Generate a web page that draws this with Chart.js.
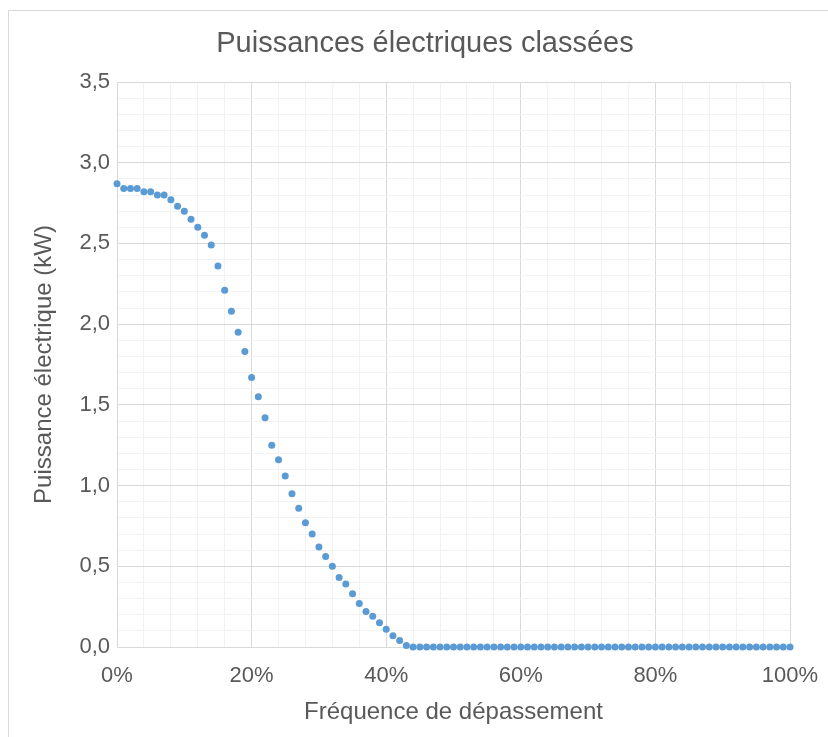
<!DOCTYPE html>
<html>
<head>
<meta charset="utf-8">
<script src="https://cdn.jsdelivr.net/npm/chart.js@4/dist/chart.umd.min.js"></script>
<style>
    body { margin: 0; background: #fff; overflow: hidden; }
    #box { position: absolute; left: 8px; top: 10px; width: 832px; height: 740px; border: 1px solid #d9d9d9; }
</style>
</head>
<body>
<div id="box"><canvas id="powerChart" width="832" height="740"></canvas></div>
<script>
// Fréquence de dépassement (%)
var frequencies = [
    0, 1, 2, 3, 4, 5, 6, 7, 8, 9, 10, 11, 12, 13, 14, 15, 16, 17, 18, 19,
    20, 21, 22, 23, 24, 25, 26, 27, 28, 29, 30, 31, 32, 33, 34, 35, 36, 37, 38, 39,
    40, 41, 42, 43, 44, 45, 46, 47, 48, 49, 50, 51, 52, 53, 54, 55, 56, 57, 58, 59,
    60, 61, 62, 63, 64, 65, 66, 67, 68, 69, 70, 71, 72, 73, 74, 75, 76, 77, 78, 79,
    80, 81, 82, 83, 84, 85, 86, 87, 88, 89, 90, 91, 92, 93, 94, 95, 96, 97, 98, 99,
    100
];

// Puissance électrique (kW)
var powers = [
    2.87, 2.84, 2.84, 2.84, 2.82, 2.82, 2.80, 2.80, 2.77, 2.73,
    2.70, 2.65, 2.60, 2.55, 2.49, 2.36, 2.21, 2.08, 1.95, 1.83,
    1.67, 1.55, 1.42, 1.25, 1.16, 1.06, 0.95, 0.86, 0.77, 0.70,
    0.62, 0.56, 0.50, 0.43, 0.39, 0.33, 0.27, 0.22, 0.19, 0.15,
    0.11, 0.07, 0.04, 0.01, 0, 0, 0, 0, 0, 0,
    0, 0, 0, 0, 0, 0, 0, 0, 0, 0,
    0, 0, 0, 0, 0, 0, 0, 0, 0, 0,
    0, 0, 0, 0, 0, 0, 0, 0, 0, 0,
    0, 0, 0, 0, 0, 0, 0, 0, 0, 0,
    0, 0, 0, 0, 0, 0, 0, 0, 0, 0,
    0
];

var xMajorTicks = [0, 20, 40, 60, 80, 100];
var yMajorTicks = [0, 0.5, 1, 1.5, 2, 2.5, 3, 3.5];

var textColor = '#595959';
var fontFamily = "'Liberation Sans', Arial, sans-serif";

function isMajorX(v) {
    return xMajorTicks.indexOf(Math.round(v)) !== -1;
}

function isMajorY(v) {
    return yMajorTicks.indexOf(Math.round(v * 10) / 10) !== -1;
}

var points = frequencies.map(function (f, i) {
    return { x: f, y: powers[i] };
});

new Chart(document.getElementById('powerChart'), {
    type: 'scatter',
    data: {
        datasets: [{
            data: points,
            backgroundColor: '#5b9bd5',
            borderColor: '#5b9bd5',
            borderWidth: 0,
            pointRadius: 3.5,
            pointHoverRadius: 3.5,
            clip: false
        }]
    },
    options: {
        responsive: false,
        animation: false,
        layout: { padding: 0 },
        plugins: {
            legend: { display: false },
            tooltip: { enabled: false },
            title: {
                display: true,
                text: 'Puissances électriques classées',
                color: textColor,
                font: { family: fontFamily, size: 29, weight: 'normal', lineHeight: 1.2 },
                padding: { top: 16, bottom: 20.2 }
            }
        },
        scales: {
            x: {
                type: 'linear',
                min: 0,
                max: 100,
                afterFit: function (scale) {
                    scale.height = 104;
                    scale.paddingRight = 51;
                    scale.paddingLeft = 0;
                },
                grid: {
                    drawTicks: false,
                    color: function (ctx) { return ctx.tick && isMajorX(ctx.tick.value) ? '#d9d9d9' : '#f2f2f2'; }
                },
                border: { display: true, color: '#d9d9d9' },
                ticks: {
                    stepSize: 4,
                    maxTicksLimit: 200,
                    autoSkip: false,
                    maxRotation: 0,
                    padding: 16,
                    color: textColor,
                    font: { family: fontFamily, size: 22 },
                    callback: function (v) { return isMajorX(v) ? Math.round(v) + '%' : ''; }
                },
                title: {
                    display: true,
                    text: 'Fréquence de dépassement',
                    color: textColor,
                    font: { family: fontFamily, size: 24 },
                    padding: { top: 24, bottom: 24 }
                }
            },
            y: {
                type: 'linear',
                min: 0,
                max: 3.5,
                afterFit: function (scale) {
                    scale.width = 108;
                },
                grid: {
                    drawTicks: false,
                    color: function (ctx) { return ctx.tick && isMajorY(ctx.tick.value) ? '#d9d9d9' : '#f2f2f2'; }
                },
                border: { display: true, color: '#d9d9d9' },
                ticks: {
                    stepSize: 0.1,
                    maxTicksLimit: 200,
                    autoSkip: false,
                    padding: 7,
                    color: textColor,
                    font: { family: fontFamily, size: 22 },
                    callback: function (v) { return isMajorY(v) ? v.toFixed(1).replace('.', ',') : ''; }
                },
                title: {
                    display: true,
                    text: 'Puissance électrique (kW)',
                    color: textColor,
                    font: { family: fontFamily, size: 24 },
                    padding: { top: 21, bottom: 21 }
                }
            }
        }
    }
});
</script>
</body>
</html>
